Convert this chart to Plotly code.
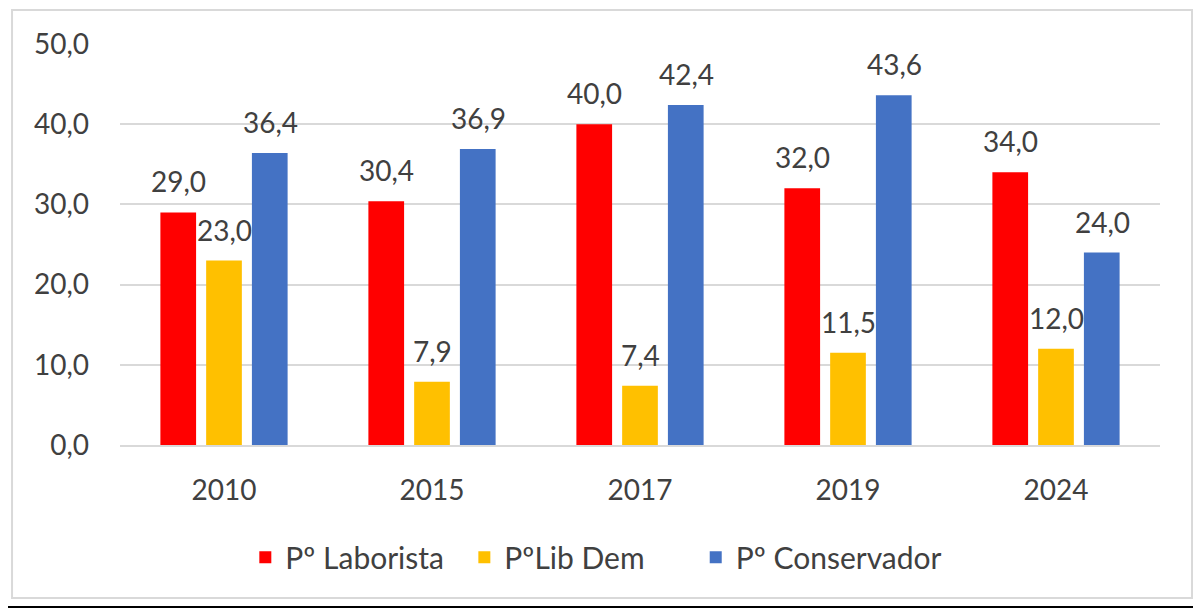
import plotly.graph_objects as go

years = ["2010", "2015", "2017", "2019", "2024"]
laborista = [29.0, 30.4, 40.0, 32.0, 34.0]
lib_dem = [23.0, 7.9, 7.4, 11.5, 12.0]
conservador = [36.4, 36.9, 42.4, 43.6, 24.0]

series_names = ["Pº Laborista", "PºLib Dem", "Pº Conservador"]
series_values = [laborista, lib_dem, conservador]
colors = ["#FF0000", "#FFC000", "#4472C4"]
# extra trailing space after each legend entry, to spread the legend like Excel does
legend_pad = [2, 6, 0]

font_family = "Lato, 'Open Sans', sans-serif"
text_color = "#404040"
fsize = 28

fig = go.Figure()
for name, vals, col, pad in zip(series_names, series_values, colors, legend_pad):
    fig.add_trace(go.Bar(x=years, y=vals, name=name + "\u00a0" * pad, marker_color=col,
                         marker_line_width=0))

# data labels above each bar (x given as category index)
step = 46
for i, vals in enumerate(series_values):
    for j, v in enumerate(vals):
        fig.add_annotation(x=j, y=v, text=f"{v:.1f}".replace(".", ","),
                           showarrow=False, xshift=(i - 1) * step, yshift=31,
                           yanchor="middle",
                           font=dict(size=fsize, color=text_color, family=font_family))

# outer frame
fig.add_shape(type="rect", xref="paper", yref="paper",
              x0=-0.1038, x1=1.0308, y0=-0.3815, y1=1.0848,
              line=dict(color="#D9D9D9", width=2))
# dark edge lines at bottom and right
fig.add_shape(type="line", xref="paper", yref="paper",
              x0=-0.1077, x1=1.0394, y0=-0.404, y1=-0.404,
              line=dict(color="black", width=2))
fig.add_shape(type="line", xref="paper", yref="paper",
              x0=1.0375, x1=1.0375, y0=-0.404, y1=1.09,
              line=dict(color="black", width=2))

fig.update_layout(
    width=1193, height=601,
    margin=dict(l=112, r=41, t=36, b=164),
    paper_bgcolor="white", plot_bgcolor="white",
    separators=",.",
    barmode="group", bargap=0.34, bargroupgap=0.22,
    font=dict(family=font_family, size=fsize, color=text_color),
    showlegend=True,
    legend=dict(orientation="h", x=0.458, xanchor="center", y=-0.28, yanchor="middle",
                font=dict(size=30, color=text_color), itemwidth=30),
)
fig.update_xaxes(type="category", showline=True, linecolor="#D9D9D9", linewidth=1.5,
                 ticks="", ticklabelstandoff=20,
                 tickfont=dict(size=fsize, color=text_color))
fig.update_yaxes(range=[0, 50], dtick=10, tickformat=".1f",
                 showgrid=True, gridcolor="#D9D9D9", gridwidth=1.5,
                 zeroline=False, ticks="", ticklabelstandoff=30,
                 tickfont=dict(size=fsize, color=text_color))

fig.write_html("out.html")
